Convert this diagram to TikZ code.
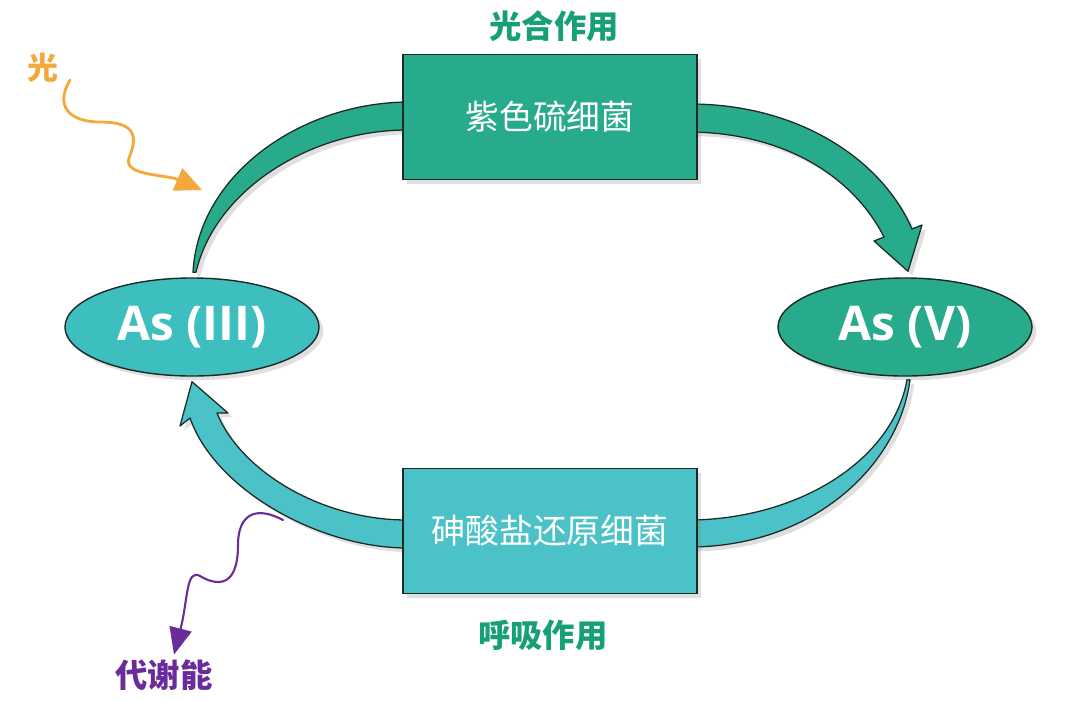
\documentclass[tikz,border=0pt]{standalone}
\usepackage{fontspec}
\setsansfont{Open Sans}
\newfontfamily\cjk{Noto Sans CJK SC}
\usetikzlibrary{arrows.meta,positioning,shapes.geometric,calc,shadows,backgrounds}
\definecolor{boxgreen}{HTML}{27AB8C}
\definecolor{boxcyan}{HTML}{4BC2C8}
\definecolor{ovalcyan}{HTML}{3DBEBF}
\definecolor{labelgreen}{HTML}{17A077}
\definecolor{lightorange}{HTML}{F4A93C}
\definecolor{energypurple}{HTML}{6B2C9B}
\definecolor{outline}{HTML}{1C2A24}

\begin{document}
\begin{tikzpicture}[x=0.025cm,y=-0.025cm,
    castshadow/.style={drop shadow={opacity=0.25,shadow xshift=3pt,shadow yshift=-3pt}},
    bact/.style={draw=outline,line width=1pt,minimum width=7.35cm,minimum height=3.125cm,
      inner sep=0pt,text=white,font=\cjk\fontsize{24}{27}\selectfont,castshadow},
    oval/.style={ellipse,draw=outline,line width=1pt,minimum width=6.35cm,minimum height=2.45cm,
      inner sep=0pt,text=white,font=\sffamily\bfseries\fontsize{34}{38}\selectfont,castshadow},
    band/.style={draw=outline,line width=0.9pt,line join=round,castshadow},
    process/.style={text=labelgreen,font=\cjk\bfseries\fontsize{23}{26}\selectfont},
    wave/.style={line cap=round,line join=round}]
  \useasboundingbox (0,0) rectangle (1080,700);

  % bacteria and arsenic states
  \node[bact,fill=boxgreen] (sulfur) at (550,117) {紫色硫细菌};
  \node[bact,fill=boxcyan] (reducer) at (550,531) {砷酸盐还原细菌};
  \node[oval,fill=ovalcyan] (iii) at (192,327) {As (III)};
  \node[oval,fill=boxgreen] (v) at (905,327) {As (V)};
  \node[process,above=5pt of sulfur,xshift=3pt] (photo) {光合作用};
  \node[process,below=15pt of reducer,xshift=-5pt] (resp) {呼吸作用};

  % cycle bands
  \begin{scope}[on background layer]
    \path[band,fill=boxgreen] ($(iii.north)+(1,-5)$) .. controls (198,175) and (300,103) ..
      ($(sulfur.west)+(5,-15)$) -- ($(sulfur.west)+(5,13)$) .. controls (310,130) and (215,190) ..
      ($(iii.north)+(4,-5)$) -- cycle;
    \path[band,fill=boxgreen] ($(sulfur.east)+(-5,-13)$) .. controls (800,105) and (882,160) ..
      (912,229) -- (922,225) -- ($(v.north)+(3,-6)$) -- (874,241) -- (884,237)
      .. controls (855,180) and (790,134) .. ($(sulfur.east)+(-5,15)$) -- cycle;
    \path[band,fill=boxcyan] ($(v.south)+(5,3)$) .. controls (900,460) and (820,545) ..
      ($(reducer.east)+(-5,16)$) -- ($(reducer.east)+(-5,-11)$) .. controls (800,518) and (893,460) ..
      ($(v.south)+(2,3)$) -- cycle;
    \path[band,fill=boxcyan] ($(reducer.west)+(5,17)$) .. controls (320,548) and (215,490) ..
      (190,418) -- (180,426) -- ($(iii.south)+(0,5)$) -- (228,413) -- (217,413)
      .. controls (240,470) and (320,520) .. ($(reducer.west)+(5,-11)$) -- cycle;
  \end{scope}

  % light in, energy out
  \node[text=lightorange,font=\cjk\bfseries\fontsize{22}{24}\selectfont] (light) at (43,68) {光};
  \coordinate (raystart) at (70,80);
  \coordinate (hit) at (202,190);
  \draw[wave,lightorange,line width=2pt,-{Triangle[length=19pt,width=17pt]}] (raystart)
    .. controls (55,105) and (68,122) .. (100,122) .. controls (140,122) and (136,140) .. (129,158)
    .. controls (123,176) and (165,174) .. (hit);
  \node[text=energypurple,font=\cjk\bfseries\fontsize{23}{26}\selectfont] (energy) at (164,675) {代谢能};
  \coordinate (release) at (283,520);
  \draw[wave,energypurple,line width=1.5pt,-{Triangle[length=19pt,width=16pt]}] (release)
    .. controls (255,505) and (238,515) .. (238,545) .. controls (238,590) and (215,585) .. (200,576)
    .. controls (186,568) and (188,600) .. ($(energy.north)+(10,0)$);
\end{tikzpicture}
\end{document}
